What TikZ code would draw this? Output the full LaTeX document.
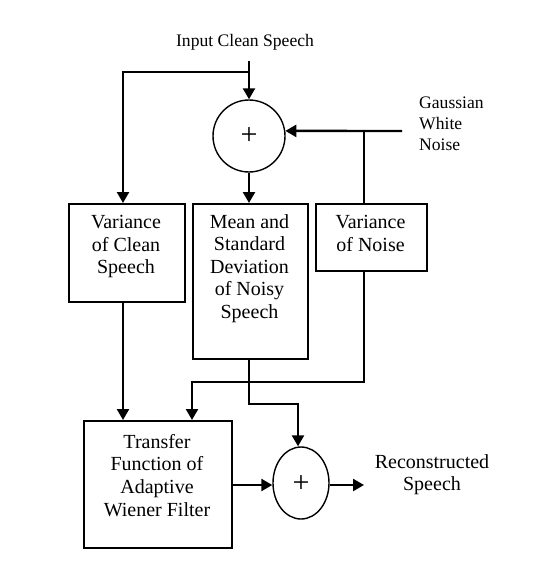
\documentclass[tikz,border=0pt]{standalone}
\usepackage{fontspec}
\setmainfont{Liberation Serif}
\usetikzlibrary{arrows.meta,shapes.geometric}
\begin{document}
\begin{tikzpicture}[x=1pt,y=-1pt,
  box/.style={draw, line width=2.4pt, inner sep=0pt, anchor=north west},
  sum/.style={draw, line width=1.4pt, inner sep=0pt},
  wire/.style={line width=2.4pt},
  arr/.style={wire, -{Triangle[length=11pt,width=12pt]}},
  boxtext/.style={align=center, inner sep=0pt, anchor=north, font=\fontsize{20}{22.6}\selectfont},
  plus/.style={inner sep=0pt, font=\fontsize{30}{30}\selectfont},
  small/.style={inner sep=0pt, font=\fontsize{17.6}{20.6}\selectfont}]
\useasboundingbox (0,0) rectangle (540,567);
% labels
\node[small, anchor=base] (inp) at (245,47) {Input Clean Speech};
\node[small, align=left, anchor=north west] (gwn) at (419,97) {Gaussian\\White\\Noise};
% summing junctions
\node[sum, circle, minimum size=72pt] (s1) at (249,136) {};
\node[plus] (p1) at (249,136) {+};
\node[sum, ellipse, minimum width=56pt, minimum height=72pt] (s2) at (301,483) {};
\node[plus] (p2) at (301,484) {+};
% boxes
\node[box, minimum width=116pt, minimum height=98pt] (vc) at (68,203) {};
\node[boxtext] (vct) at (126,215) {Variance\\of Clean\\Speech};
\node[box, minimum width=115pt, minimum height=155pt] (ms) at (192,203) {};
\node[boxtext] (mst) at (249.5,214) {Mean and\\Standard\\Deviation\\of Noisy\\Speech};
\node[box, minimum width=111pt, minimum height=67pt] (vn) at (315,203) {};
\node[boxtext] (vnt) at (370.5,215) {Variance\\of Noise};
\node[box, minimum width=148pt, minimum height=127pt] (tf) at (83,420) {};
\node[boxtext] (tft) at (157,434) {Transfer\\Function of\\Adaptive\\Wiener Filter};
\node[boxtext] (rs) at (432,454) {Reconstructed\\Speech};
% coordinates
\coordinate (in0) at (249,61);
\coordinate (inj) at (249,72);
\coordinate (inl) at (123,72);
\coordinate (n0) at (402,131);
\coordinate (nj) at (364,131);
\coordinate (nb) at (364,382);
\coordinate (nl) at (192,382);
\coordinate (mb) at (249,404);
\coordinate (mr) at (298,404);
\coordinate (out) at (364,485);
% connectors
\draw[arr] (in0) -- (s1.north);
\draw[arr] (inj) -- (inl) -- (inl |- vc.north);
\draw[arr] (n0) -- (s1.8);
\draw[wire] (nj) -- (nj |- vn.north);
\draw[arr] (s1.south) -- (s1.south |- ms.north);
\draw[arr] (vc.south -| inl) -- (inl |- tf.north);
\draw[arr] (vn.south -| nj) -- (nb) -- (nl) -- (nl |- tf.north);
\draw[arr] (ms.south -| mb) -- (mb) -- (mr) -- (mr |- s2.north);
\draw[arr] (tf.east |- 0,485) -- (s2.west |- 0,485);
\draw[arr] (s2.east |- 0,485) -- (out);
\end{tikzpicture}
\end{document}
